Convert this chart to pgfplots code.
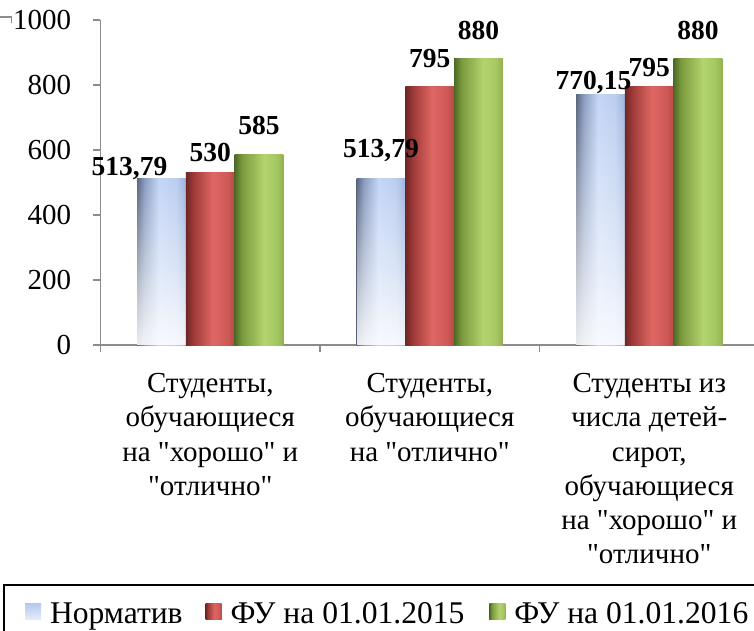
\documentclass[border=0pt]{standalone}
\usepackage{fontspec}
\setmainfont{Liberation Serif}[Ligatures=TeXOff]
\usepackage{pgfplots}
\pgfplotsset{compat=1.18}
\usetikzlibrary{fadings}
\definecolor{axgray}{HTML}{8C8C8C}
\definecolor{blA}{HTML}{5A6680}
\definecolor{blB}{HTML}{8A9CC0}
\definecolor{blC}{HTML}{C5D6F6}
\definecolor{blD}{HTML}{BBCDF0}
\definecolor{blE}{HTML}{9DB3DD}
\definecolor{rdA}{HTML}{6E2624}
\definecolor{rdB}{HTML}{9E3A38}
\definecolor{rdC}{HTML}{DE6763}
\definecolor{rdD}{HTML}{CF5956}
\definecolor{rdE}{HTML}{B84A47}
\definecolor{gnA}{HTML}{4E6A26}
\definecolor{gnB}{HTML}{7A9A3E}
\definecolor{gnC}{HTML}{B3D36E}
\definecolor{gnD}{HTML}{A6C862}
\definecolor{gnE}{HTML}{92B250}
\definecolor{legBlue}{HTML}{B4CAEE}
\definecolor{legRed}{HTML}{C9504D}
\definecolor{legGreen}{HTML}{9BBB59}
\pgfdeclarehorizontalshading{bluebar}{100bp}{color(0bp)=(blA); color(25bp)=(blA); color(32.5bp)=(blB); color(47.5bp)=(blC); color(65bp)=(blD); color(75bp)=(blE); color(100bp)=(blE)}
\pgfdeclarehorizontalshading{redbar}{100bp}{color(0bp)=(rdA); color(25bp)=(rdA); color(32.5bp)=(rdB); color(52.5bp)=(rdC); color(67.5bp)=(rdD); color(75bp)=(rdE); color(100bp)=(rdE)}
\pgfdeclarehorizontalshading{greenbar}{100bp}{color(0bp)=(gnA); color(25bp)=(gnA); color(32.5bp)=(gnB); color(55bp)=(gnC); color(67.5bp)=(gnD); color(75bp)=(gnE); color(100bp)=(gnE)}

\begin{document}
\fontsize{14.5}{17.1}\selectfont
\begin{tikzpicture}
\useasboundingbox (-50.25pt,-143pt) rectangle (326.75pt,172.5pt);
\draw[axgray, line width=0.8pt] (-50.5pt,164pt) -- (-44.5pt,164pt) -- (-44.5pt,161pt);
\begin{axis}[
  scale only axis,
  width=329.25pt, height=162.5pt,
  xmin=-0.5, xmax=2.5, ymin=0, ymax=1000,
  axis x line*=bottom, axis y line*=left,
  axis line style={draw=axgray, line width=0.8pt},
  tick style={draw=axgray, line width=0.8pt},
  major tick length=3.5pt, tick align=outside,
  ytick={0,200,...,1000},
  xtick={-0.5,0.5,1.5,2.5},
  x tick label as interval,
  xticklabels={{Студенты,\\обучающиеся\\на "хорошо" и\\"отлично"},
               {Студенты,\\обучающиеся\\на "отлично"},
               {Студенты из\\числа детей-\\сирот,\\обучающиеся\\на "хорошо" и\\"отлично"}},
  x tick label style={align=center, font=\fontsize{14.5}{17.1}\selectfont, inner sep=0pt, yshift=-10.5pt},
  y tick label style={font=\fontsize{14.5}{17.1}\selectfont, inner sep=0pt, xshift=-11pt},
  /pgf/number format/assume math mode=true,
  /pgf/number format/1000 sep={},
  clip=false,
  legend style={at={(axis description cs:-0.148,-0.735)}, anchor=north west,
    draw=black, line width=1pt, font=\fontsize{15.8}{18}\selectfont,
    inner xsep=10.5pt, inner ysep=7pt},
  legend columns=3,
  legend cell align=left,
  /tikz/column 1/.style={column sep=2.5pt},
  /tikz/column 2/.style={column sep=9.5pt},
  /tikz/column 3/.style={column sep=2.5pt},
  /tikz/column 4/.style={column sep=10.5pt},
  /tikz/column 5/.style={column sep=2.5pt},
  mylegend/.style={legend image code/.code={\fill[#1] (0pt,-2pt) rectangle (8pt,6pt);}},
  onebar/.style={ybar, bar width=24.35pt, draw=none},
  B/.style={onebar, bar shift=-24.35pt, shade, shading=bluebar},
  R/.style={onebar, bar shift=0pt, shade, shading=redbar},
  G/.style={onebar, bar shift=24.35pt, shade, shading=greenbar},
  F/.style={onebar, bar shift=-24.35pt, fill=white, fill opacity=0.88, path fading=north, forget plot},
  lbl/.style 2 args={nodes near coords, point meta=explicit symbolic,
    every node near coord/.append style={font=\bfseries\fontsize{13.75}{16}\selectfont, text=black,
      anchor=base, inner sep=0pt, xshift=#1, yshift=#2}},
]
% Норматив
\addplot[B, mylegend={top color=legBlue, bottom color=legBlue!35!white}, lbl={-40.35pt}{1.5pt}] coordinates {(0,513.79) [513,79]};
\addlegendentry{Норматив}
\addplot[B, forget plot, lbl={-24.35pt}{10.5pt}] coordinates {(1,513.79) [513,79]};
\addplot[B, forget plot, lbl={-27.85pt}{2.5pt}] coordinates {(2,770.15) [770,15]};
\addplot[F] coordinates {(0,513.79)};
\addplot[F] coordinates {(1,513.79)};
\addplot[F] coordinates {(2,770.15)};
% ФУ на 01.01.2015
\addplot[R, mylegend={legRed}, lbl={0pt}{5.5pt}] coordinates {(0,530) [530]};
\addlegendentry{ФУ на 01.01.2015}
\addplot[R, forget plot, lbl={0pt}{9.5pt}] coordinates {(1,795) [795]};
\addplot[R, forget plot, lbl={0pt}{5pt}] coordinates {(2,795) [795]};
% ФУ на 01.01.2016
\addplot[G, mylegend={legGreen}, lbl={24.35pt}{10pt}] coordinates {(0,585) [585]};
\addlegendentry{ФУ на 01.01.2016\kern20pt}
\addplot[G, forget plot, lbl={24.35pt}{9.5pt}] coordinates {(1,880) [880]};
\addplot[G, forget plot, lbl={24.35pt}{9.5pt}] coordinates {(2,880) [880]};
\end{axis}
\end{tikzpicture}
\end{document}
